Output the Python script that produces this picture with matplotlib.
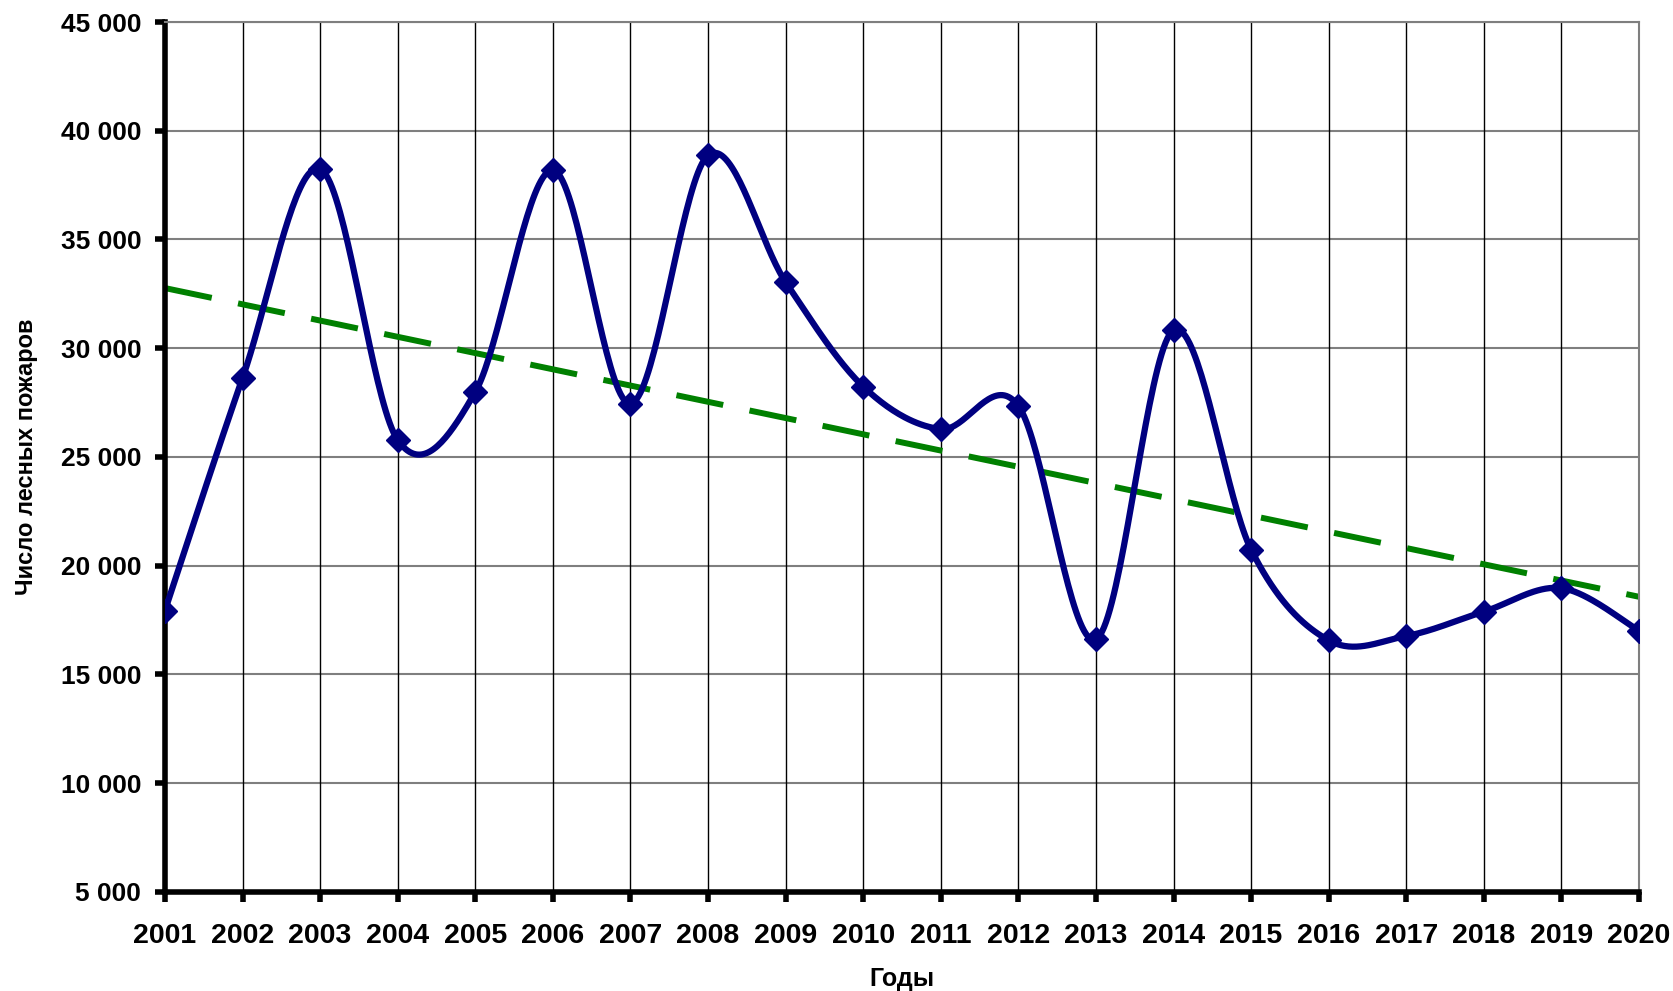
import numpy as np
import matplotlib
matplotlib.use("Agg")
import matplotlib.pyplot as plt
from matplotlib.ticker import FuncFormatter

plt.rcParams["font.family"] = ["Liberation Sans", "DejaVu Sans"]
plt.rcParams["font.weight"] = "bold"

years = np.arange(2001, 2021)
fires = np.array([
    17940, 28630, 38240, 25780, 27990, 38190, 27450, 38870, 33040, 28240,
    26280, 27350, 16620, 30830, 20740, 16570, 16770, 17890, 18970, 17010,
])
y_ticks = [5000, 10000, 15000, 20000, 25000, 30000, 35000, 40000, 45000]


def smooth_curve(x, y, n=40):
    # Excel-style smoothed line: cubic Bezier through points (Catmull-Rom tangents)
    px = np.concatenate([[x[0]], x, [x[-1]]])
    py = np.concatenate([[y[0]], y, [y[-1]]])
    t = np.linspace(0, 1, n)
    xs, ys = [], []
    for i in range(1, len(px) - 2):
        p0 = np.array([px[i], py[i]], dtype=float)
        p3 = np.array([px[i + 1], py[i + 1]], dtype=float)
        c1 = p0 + (np.array([px[i + 1], py[i + 1]]) - np.array([px[i - 1], py[i - 1]])) / 6
        c2 = p3 - (np.array([px[i + 2], py[i + 2]]) - np.array([px[i], py[i]])) / 6
        b = ((1 - t) ** 3)[:, None] * p0 + (3 * (1 - t) ** 2 * t)[:, None] * c1 \
            + (3 * (1 - t) * t ** 2)[:, None] * c2 + (t ** 3)[:, None] * p3
        xs.append(b[:, 0])
        ys.append(b[:, 1])
    return np.concatenate(xs), np.concatenate(ys)


fig = plt.figure(figsize=(16.73, 9.91), dpi=100)
ax = fig.add_axes([0.0986, 0.0999, 0.8811, 0.8779])

# grid
for yv in y_ticks:
    ax.axhline(yv, color="#7f7f7f", lw=1.5, zorder=1)
for xv in years:
    ax.axvline(xv, color="black", lw=1.0, zorder=1)

# trend line
k, b = np.polyfit(years, fires, 1)
ax.plot(years, k * years + b, color="#008000", lw=4.3, dashes=(8, 4.5), zorder=2)

# data
sx, sy = smooth_curve(years, fires)
ax.plot(sx, sy, color="#000080", lw=4.5, zorder=3, solid_capstyle="round")
ax.plot(years, fires, linestyle="none", marker="D", color="#000080", markersize=12, zorder=4)

ax.set_xlim(2001, 2020)
ax.set_ylim(5000, 45000)
ax.set_xticks(years)
ax.set_yticks(y_ticks)
ax.yaxis.set_major_formatter(FuncFormatter(lambda v, p: f"{int(v):,}".replace(",", " ")))

for side in ["left", "bottom"]:
    ax.spines[side].set_linewidth(4)
    ax.spines[side].set_color("black")
for side in ["top", "right"]:
    ax.spines[side].set_linewidth(1.5)
    ax.spines[side].set_color("#7f7f7f")

ax.tick_params(axis="y", direction="out", length=7, width=4, labelsize=19, pad=10)
ax.tick_params(axis="x", direction="out", length=7, width=4, labelsize=20.5, pad=15)
for lab in ax.get_xticklabels() + ax.get_yticklabels():
    lab.set_fontweight("bold")

ax.set_xlabel("Годы", fontsize=18, fontweight="bold", labelpad=13)
ax.set_ylabel("Число лесных пожаров", fontsize=17, fontweight="bold", labelpad=16)

fig.savefig("out.png", dpi=100)
plt.close(fig)
